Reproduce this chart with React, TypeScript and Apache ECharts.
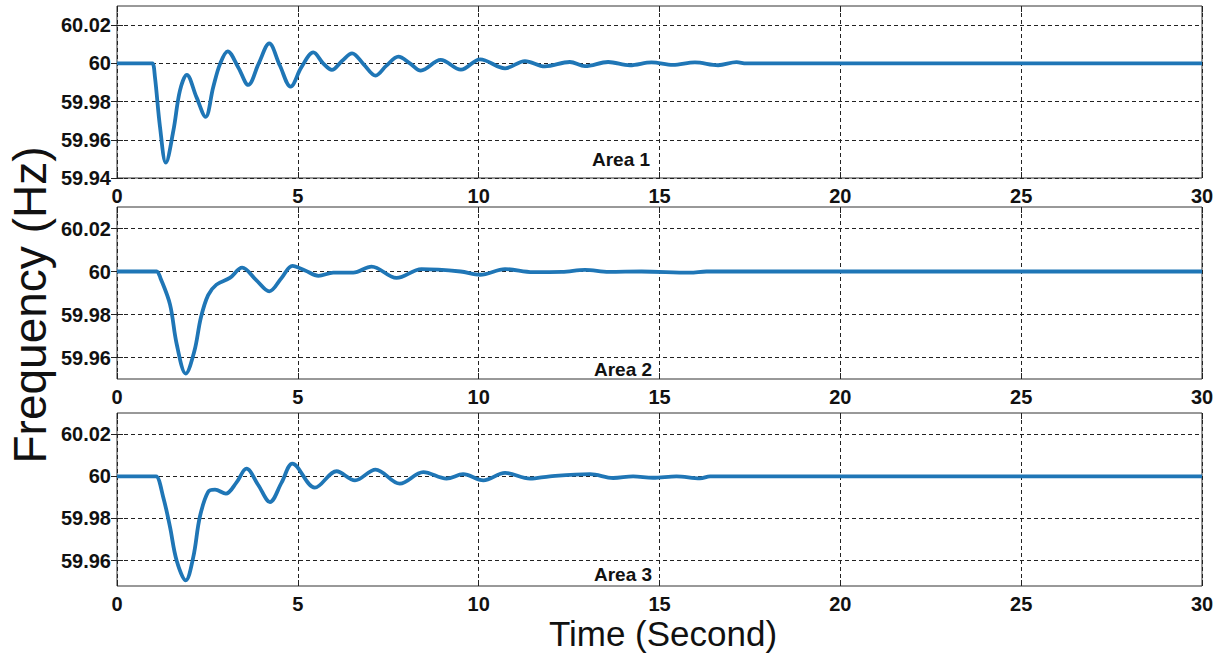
import React, { useEffect, useRef } from "react";
import * as echarts from "echarts";

const xTicks = [0, 5, 10, 15, 20, 25, 30];
const yTicks1 = [59.94, 59.96, 59.98, 60, 60.02];
const yTicks23 = [59.96, 59.98, 60, 60.02];
const areaNames = ["Area 1", "Area 2", "Area 3"];

const area1Time = [0, 0.9, 0.98, 1.05, 1.19, 1.35, 1.56, 1.74, 1.93, 2.2, 2.45, 2.66, 2.85, 3.06, 3.35, 3.63, 3.92, 4.21, 4.5, 4.8, 5.1, 5.43, 5.7, 5.94, 6.22, 6.5, 6.82, 7.15, 7.45, 7.78, 8.1, 8.4, 8.95, 9.51, 10.04, 10.73, 11.28, 11.83, 12.52, 12.94, 13.58, 14.18, 14.78, 15.37, 15.98, 16.62, 17.13, 17.4, 20, 25, 30];
const area1Freq = [60, 60, 60, 59.9927, 59.9666, 59.948, 59.9649, 59.9857, 59.994, 59.9822, 59.972, 59.9875, 59.9997, 60.0063, 59.998, 59.9887, 60.0, 60.0104, 59.999, 59.9878, 59.998, 60.0057, 60.0, 59.9966, 60.0012, 60.0052, 59.9995, 59.9936, 59.9988, 60.0035, 60.0, 59.9962, 60.0018, 59.9967, 60.0021, 59.9974, 60.0012, 59.9984, 60.0007, 59.9985, 60.0007, 59.999, 60.0005, 59.9992, 60.0005, 59.999, 60.0006, 60, 60, 60, 60];

const area2Time = [0, 1.0, 1.1, 1.2, 1.465, 1.65, 1.9, 2.14, 2.32, 2.52, 2.75, 3.12, 3.46, 3.85, 4.21, 4.55, 4.85, 5.2, 5.57, 5.98, 6.53, 7.04, 7.73, 8.42, 9.5, 10.04, 10.73, 11.5, 12.3, 12.94, 13.6, 14.5, 15.84, 16.3, 20, 25, 30];
const area2Freq = [60, 60, 60, 59.997, 59.9847, 59.9663, 59.9525, 59.963, 59.9786, 59.989, 59.9939, 59.997, 60.0018, 59.996, 59.9908, 59.997, 60.0026, 60.0005, 59.998, 59.9995, 59.9995, 60.0023, 59.997, 60.0011, 60.0, 59.9985, 60.0011, 59.9997, 59.9998, 60.0008, 59.9998, 60.0, 59.9995, 60, 60, 60, 60];

const area3Time = [0, 1.0, 1.08, 1.28, 1.465, 1.65, 1.9, 2.11, 2.29, 2.52, 2.71, 3.01, 3.3, 3.58, 3.9, 4.23, 4.55, 4.85, 5.47, 6.07, 6.58, 7.15, 7.82, 8.47, 9.11, 9.57, 10.13, 10.73, 11.42, 11.97, 13.08, 13.72, 14.27, 14.82, 15.47, 16.12, 16.4, 20, 25, 30];
const area3Freq = [60, 60, 60, 59.99, 59.976, 59.96, 59.9507, 59.9618, 59.9807, 59.9926, 59.9937, 59.9918, 59.997, 60.0036, 59.996, 59.9878, 59.997, 60.006, 59.9946, 60.0024, 59.9981, 60.0032, 59.9965, 60.002, 59.9989, 60.001, 59.9981, 60.0016, 59.9989, 60.0, 60.001, 59.9992, 60.0, 59.9993, 60.0, 59.999, 60, 60, 60, 60];

const yMins = [59.94, 59.95, 59.948];
const yMax = 60.03;

const FONT = "'Liberation Sans', Arial, sans-serif";
const LINE_COLOR = "#1f76b6";

export default function App() {
  const ref = useRef<HTMLDivElement>(null);

  useEffect(() => {
    if (!ref.current) return;
    const chart = echarts.init(ref.current, null, { renderer: "svg" });

    const grids = [
      { left: 117, top: 6, width: 1085, height: 172 },
      { left: 117, top: 207, width: 1085, height: 172 },
      { left: 117, top: 413, width: 1085, height: 173 },
    ];
    const labelMargins = [8, 8, 8];
    const series = [
      area1Time.map((t, i) => [t, area1Freq[i]]),
      area2Time.map((t, i) => [t, area2Freq[i]]),
      area3Time.map((t, i) => [t, area3Freq[i]]),
    ];

    const fmt = (v: number) => String(+(+v).toFixed(2));
    const xAxis: any[] = [];
    const yAxis: any[] = [];
    grids.forEach((_, i) => {
      const yt = i === 0 ? yTicks1 : yTicks23;
      xAxis.push({
        type: "value",
        gridIndex: i,
        min: 0,
        max: 30,
        interval: 5,
        position: "bottom",
        axisLine: { show: false },
        axisTick: { show: true, inside: true, length: 6, lineStyle: { color: "#222", width: 1 } },
        axisLabel: {
          show: true,
          margin: labelMargins[i],
          color: "#111",
          fontSize: 20,
          fontWeight: "bold",
          fontFamily: FONT,
          formatter: (v: number) => (xTicks.includes(v) ? String(v) : ""),
        },
        splitLine: { show: true, lineStyle: { color: "#222", width: 1, type: [4, 3] } },
      });
      xAxis.push({
        type: "value",
        gridIndex: i,
        min: 0,
        max: 30,
        interval: 5,
        position: "top",
        axisLine: { show: false },
        axisTick: { show: true, inside: true, length: 6, lineStyle: { color: "#222", width: 1 } },
        axisLabel: { show: false },
        splitLine: { show: false },
      });
      yAxis.push({
        type: "value",
        gridIndex: i,
        min: yMins[i],
        max: yMax,
        position: "left",
        axisLine: { show: false },
        axisTick: { show: true, inside: true, length: 6, customValues: yt, lineStyle: { color: "#222", width: 1 } },
        axisLabel: {
          show: true,
          customValues: yt,
          margin: 6,
          color: "#111",
          fontSize: 20,
          fontWeight: "bold",
          fontFamily: FONT,
          formatter: fmt,
        },
        splitLine: { show: true, lineStyle: { color: "#222", width: 1, type: [4, 3] } },
      });
      yAxis.push({
        type: "value",
        gridIndex: i,
        min: yMins[i],
        max: yMax,
        position: "right",
        axisLine: { show: false },
        axisTick: { show: true, inside: true, length: 6, customValues: yt, lineStyle: { color: "#222", width: 1 } },
        axisLabel: { show: false },
        splitLine: { show: false },
      });
    });

    const areaLabelPos = [
      [621, 159],
      [623, 369],
      [623, 574],
    ];

    chart.setOption({
      animation: false,
      backgroundColor: "#ffffff",
      grid: grids.map((g) => ({
        ...g,
        show: true,
        borderColor: "#333",
        borderWidth: 1,
        backgroundColor: "transparent",
        containLabel: false,
      })),
      xAxis,
      yAxis,
      series: series.map((d, i) => ({
        type: "line",
        name: areaNames[i],
        xAxisIndex: i * 2,
        yAxisIndex: i * 2,
        data: d,
        showSymbol: false,
        symbol: "none",
        smooth: 0.35,
        lineStyle: { color: LINE_COLOR, width: 3.8 },
        z: 5,
      })),
      graphic: [
        {
          type: "text",
          x: 30,
          y: 305,
          rotation: Math.PI / 2,
          style: {
            text: "Frequency (Hz)",
            fontSize: 46,
            fontFamily: FONT,
            fill: "#111",
            textAlign: "center",
            textVerticalAlign: "middle",
          },
        },
        {
          type: "text",
          x: 663,
          y: 633,
          style: {
            text: "Time (Second)",
            fontSize: 35,
            fontFamily: FONT,
            fill: "#111",
            textAlign: "center",
            textVerticalAlign: "middle",
          },
        },
        ...areaNames.map((name, i) => ({
          type: "text",
          x: areaLabelPos[i][0],
          y: areaLabelPos[i][1],
          z: 10,
          style: {
            text: name,
            fontSize: 19,
            fontWeight: "bold",
            fontFamily: FONT,
            fill: "#111",
            textAlign: "center",
            textVerticalAlign: "middle",
          },
        })),
      ],
    });

    return () => chart.dispose();
  }, []);

  return (
    <div
      ref={ref}
      style={{ position: "absolute", left: 0, top: 0, width: 1231, height: 659 }}
    />
  );
}
